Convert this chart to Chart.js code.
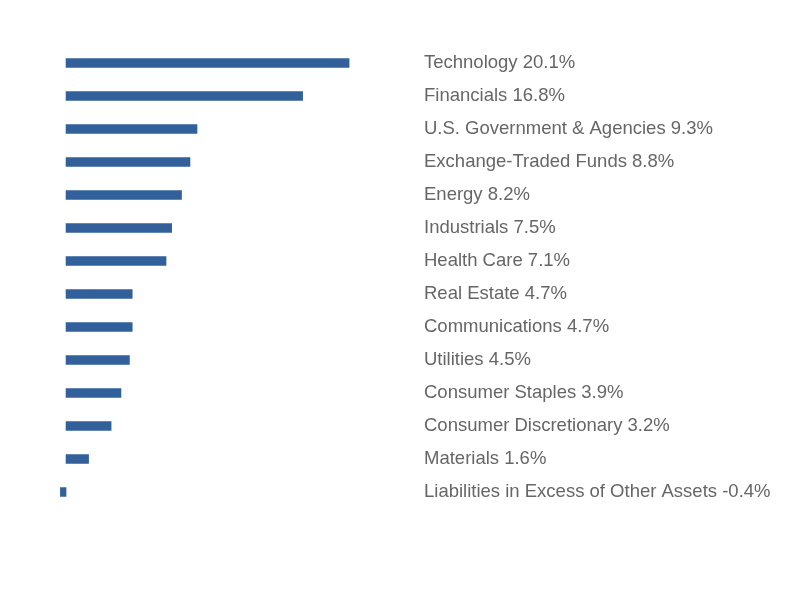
<!DOCTYPE html>
<html>
<head>
<meta charset="utf-8">
<script src="https://cdn.jsdelivr.net/npm/chart.js@4"></script>
<style>
  html, body { margin: 0; padding: 0; background: #fff; }
  #wrap { width: 792px; height: 600px; }
</style>
</head>
<body>
<div id="wrap"><canvas id="myChart" width="792" height="600"></canvas></div>
<script>
var sectors = [
  'Technology',
  'Financials',
  'U.S. Government & Agencies',
  'Exchange-Traded Funds',
  'Energy',
  'Industrials',
  'Health Care',
  'Real Estate',
  'Communications',
  'Utilities',
  'Consumer Staples',
  'Consumer Discretionary',
  'Materials',
  'Liabilities in Excess of Other Assets'
];
var weights = [20.1, 16.8, 9.3, 8.8, 8.2, 7.5, 7.1, 4.7, 4.7, 4.5, 3.9, 3.2, 1.6, -0.4];

var labels = sectors.map(function (s, i) {
  return s + ' ' + weights[i].toFixed(1) + '%';
});

var ctx = document.getElementById('myChart').getContext('2d');
var myChart = new Chart(ctx, {
  type: 'bar',
  data: {
    labels: labels,
    datasets: [{
      label: 'Sector Allocation',
      data: weights,
      backgroundColor: '#31609a',
      borderWidth: 0,
      barThickness: 9
    }]
  },
  options: {
    indexAxis: 'y',
    responsive: false,
    animation: false,
    layout: {
      padding: { left: 59, top: 46.5, bottom: 91.5, right: 0 }
    },
    scales: {
      x: {
        display: false,
        min: -0.5,
        max: 24
      },
      y: {
        position: 'right',
        grid: { display: false, drawTicks: false },
        border: { display: false },
        ticks: {
          padding: 20,
          color: '#666666',
          font: { family: 'Liberation Sans, Arial, sans-serif', size: 18.5 }
        },
        afterFit: function (scale) {
          scale.width = 388;
        }
      }
    },
    plugins: {
      legend: { display: false },
      tooltip: { enabled: false }
    }
  }
});
</script>
</body>
</html>
